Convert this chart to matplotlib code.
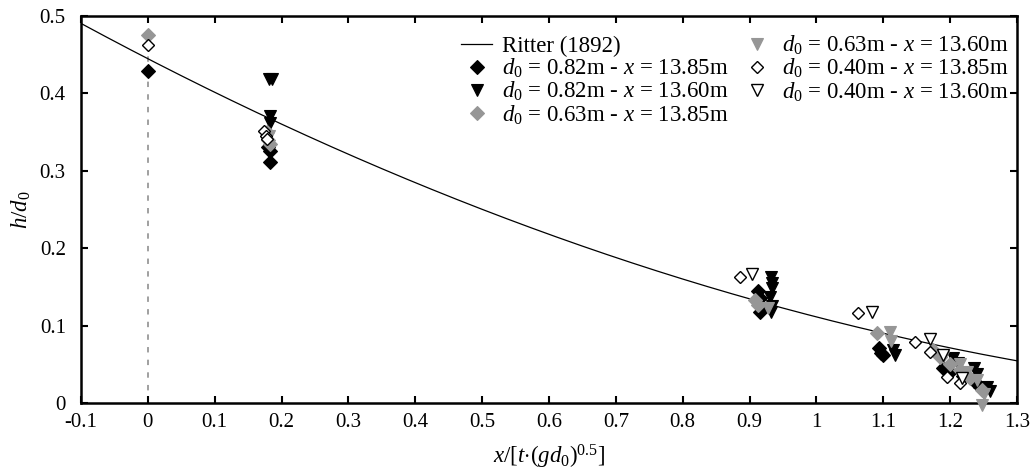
import numpy as np
import matplotlib
matplotlib.use("Agg")
import matplotlib.pyplot as plt
from matplotlib.ticker import FuncFormatter, MultipleLocator

plt.rcParams['font.family'] = ['Liberation Serif', 'DejaVu Serif']
plt.rcParams['mathtext.fontset'] = 'custom'
plt.rcParams['mathtext.rm'] = 'Liberation Serif'
plt.rcParams['mathtext.it'] = 'Liberation Serif:italic'

# ---- data ----
x_b_d = [0.0, 0.180, 0.182, 0.183, 0.913, 0.916, 0.918, 0.915, 1.093, 1.097, 1.100, 1.190, 1.200, 1.220, 1.235, 1.245]
y_b_d = [0.429, 0.330, 0.325, 0.311, 0.144, 0.135, 0.124, 0.117, 0.071, 0.065, 0.062, 0.045, 0.040, 0.035, 0.028, 0.020]

x_b_t = [0.181, 0.186, 0.183, 0.182, 0.932, 0.934, 0.933, 0.931, 0.933, 0.932, 1.115, 1.118, 1.205, 1.212, 1.235, 1.240, 1.255, 1.260]
y_b_t = [0.418, 0.418, 0.370, 0.362, 0.163, 0.155, 0.149, 0.137, 0.125, 0.117, 0.068, 0.062, 0.058, 0.052, 0.045, 0.038, 0.020, 0.015]

x_g_d = [0.0, 0.178, 0.180, 0.182, 0.908, 0.912, 1.090, 1.175, 1.185, 1.200, 1.215, 1.230, 1.247]
y_g_d = [0.475, 0.350, 0.340, 0.335, 0.133, 0.127, 0.090, 0.068, 0.060, 0.050, 0.042, 0.032, 0.017]

x_g_t = [0.181, 0.927, 1.110, 1.112, 1.190, 1.215, 1.225, 1.240, 1.250, 1.247]
y_g_t = [0.345, 0.123, 0.092, 0.080, 0.060, 0.050, 0.040, 0.030, 0.012, -0.002]

x_w_d = [0.0, 0.174, 0.176, 0.178, 0.885, 1.062, 1.147, 1.170, 1.195, 1.215]
y_w_d = [0.462, 0.351, 0.345, 0.341, 0.163, 0.116, 0.079, 0.066, 0.034, 0.026]

x_w_t = [0.903, 1.083, 1.170, 1.190, 1.218]
y_w_t = [0.166, 0.118, 0.082, 0.062, 0.032]

labels = [
    'Ritter (1892)',
    r'$d_0$ = 0.82m - $x$ = 13.85m',
    r'$d_0$ = 0.82m - $x$ = 13.60m',
    r'$d_0$ = 0.63m - $x$ = 13.85m',
    r'$d_0$ = 0.63m - $x$ = 13.60m',
    r'$d_0$ = 0.40m - $x$ = 13.85m',
    r'$d_0$ = 0.40m - $x$ = 13.60m',
]

fig = plt.figure(figsize=(10.31, 4.70), dpi=100)
ax = fig.add_axes([0.0786, 0.1426, 0.9078, 0.824])

# Ritter solution
xr = np.linspace(-0.1, 1.3, 300)
yr = (2.0 - xr) ** 2 / 9.0
ax.plot(xr, yr, color='black', lw=0.9, label=labels[0], zorder=2)

# dashed line at x=0
ax.plot([0, 0], [0, 0.475], color='#999999', lw=1.3, ls=(0, (3, 4)), zorder=1)

gray = '#969696'
ms_d = 7.0
ms_t = 9.2
kw = dict(ls='none', clip_on=False, zorder=3)
ax.plot(x_b_d, y_b_d, marker='D', ms=ms_d, mfc='black', mec='black', mew=0.8, label=labels[1], **kw)
ax.plot(x_b_t, y_b_t, marker='v', ms=ms_t, mfc='black', mec='black', mew=0.8, label=labels[2], **kw)
ax.plot(x_g_d, y_g_d, marker='D', ms=ms_d, mfc=gray, mec=gray, mew=0.8, label=labels[3], **kw)
ax.plot(x_g_t, y_g_t, marker='v', ms=ms_t, mfc=gray, mec=gray, mew=0.8, label=labels[4], **kw)
ax.plot(x_w_d, y_w_d, marker='D', ms=ms_d - 0.6, mfc='white', mec='black', mew=1.0, label=labels[5], **kw)
ax.plot(x_w_t, y_w_t, marker='v', ms=ms_t - 0.6, mfc='white', mec='black', mew=1.0, label=labels[6], **kw)

ax.set_xlim(-0.1, 1.3)
ax.set_ylim(0, 0.5)
ax.xaxis.set_major_locator(MultipleLocator(0.1))
ax.yaxis.set_major_locator(MultipleLocator(0.1))
fmt = FuncFormatter(lambda v, p: '{:g}'.format(round(v, 3)))
ax.xaxis.set_major_formatter(fmt)
ax.yaxis.set_major_formatter(fmt)
ax.tick_params(direction='in', top=True, right=True, length=5, width=1.5, labelsize=15)
ax.tick_params(axis='x', pad=7)
ax.tick_params(axis='y', pad=11)
for s in ax.spines.values():
    s.set_linewidth(1.8)

ax.set_xlabel(r'$x/[t{\cdot}(gd_0)^{0.5}]$', fontsize=16.5, labelpad=8)
ax.set_ylabel(r'$h/d_0$', fontsize=16.5, labelpad=5)

leg = ax.legend(loc='upper right', ncol=2, frameon=False, fontsize=16.5,
                handlelength=1.35, handletextpad=0.4, columnspacing=0.6,
                labelspacing=0.0, borderaxespad=0.3, bbox_to_anchor=(1.008, 0.995))

fig.savefig('out.png', dpi=100)
